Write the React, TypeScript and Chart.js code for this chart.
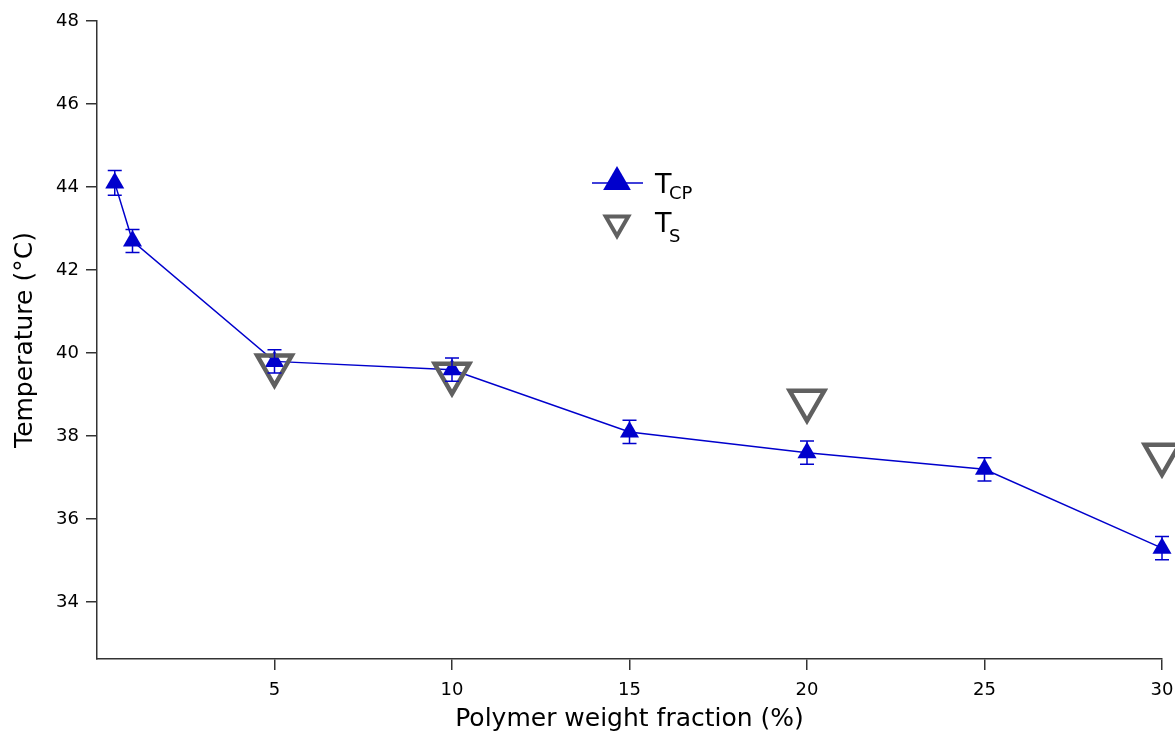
import React, { useEffect, useRef } from "react";
import { Chart, registerables } from "chart.js";

Chart.register(...registerables);

const fractions = [0.5, 1, 5, 10, 15, 20, 25, 30];
const tcpValues = [44.1, 42.7, 39.8, 39.6, 38.1, 37.6, 37.2, 35.3];
const tcpErrors = [0.3, 0.28, 0.28, 0.28, 0.28, 0.28, 0.28, 0.28];
const tsFractions = [5, 10, 20, 30];
const tsValues = [39.7, 39.5, 38.85, 37.55];
const xTicks = [5, 10, 15, 20, 25, 30];
const yTicks = [34, 36, 38, 40, 42, 44, 46, 48];

const BLUE = "#0000cc";
const GRAY = "#606060";
const AXIS = "#333333";
const FONT = "'DejaVu Sans', sans-serif";

const errorBarPlugin = {
  id: "errorBars",
  afterDatasetsDraw(chart: any) {
    const ctx = chart.ctx;
    const xs = chart.scales.x;
    const ys = chart.scales.y;
    ctx.save();
    ctx.strokeStyle = BLUE;
    ctx.lineWidth = 1.5;
    fractions.forEach((f, i) => {
      const px = xs.getPixelForValue(f);
      const top = ys.getPixelForValue(tcpValues[i] + tcpErrors[i]);
      const bot = ys.getPixelForValue(tcpValues[i] - tcpErrors[i]);
      ctx.beginPath();
      ctx.moveTo(px, top);
      ctx.lineTo(px, bot);
      ctx.moveTo(px - 7, top);
      ctx.lineTo(px + 7, top);
      ctx.moveTo(px - 7, bot);
      ctx.lineTo(px + 7, bot);
      ctx.stroke();
    });
    ctx.restore();
  },
};

const legendPlugin = {
  id: "customLegend",
  afterDraw(chart: any) {
    const ctx = chart.ctx;
    ctx.save();
    const cx = 617;
    const y1 = 182;
    ctx.strokeStyle = BLUE;
    ctx.lineWidth = 1.5;
    ctx.beginPath();
    ctx.moveTo(592, 183);
    ctx.lineTo(643, 183);
    ctx.stroke();
    ctx.fillStyle = BLUE;
    const r1 = 16;
    ctx.beginPath();
    ctx.moveTo(cx, y1 - r1);
    ctx.lineTo(cx + r1 * Math.sin(Math.PI / 3), y1 + r1 / 2);
    ctx.lineTo(cx - r1 * Math.sin(Math.PI / 3), y1 + r1 / 2);
    ctx.closePath();
    ctx.fill();
    ctx.fillStyle = "#000";
    ctx.textBaseline = "alphabetic";
    ctx.textAlign = "left";
    ctx.font = `27px ${FONT}`;
    ctx.fillText("T", 655, 193);
    ctx.font = `18px ${FONT}`;
    ctx.fillText("CP", 669, 199);
    const y2 = 223;
    const r2 = 13;
    ctx.strokeStyle = GRAY;
    ctx.lineWidth = 4;
    ctx.lineJoin = "miter";
    ctx.beginPath();
    ctx.moveTo(cx, y2 + r2);
    ctx.lineTo(cx + r2 * Math.sin(Math.PI / 3), y2 - r2 / 2);
    ctx.lineTo(cx - r2 * Math.sin(Math.PI / 3), y2 - r2 / 2);
    ctx.closePath();
    ctx.stroke();
    ctx.fillStyle = "#000";
    ctx.font = `27px ${FONT}`;
    ctx.fillText("T", 655, 232);
    ctx.font = `18px ${FONT}`;
    ctx.fillText("S", 669, 242);
    ctx.restore();
  },
};

export default function App() {
  const ref = useRef<HTMLCanvasElement | null>(null);
  useEffect(() => {
    if (!ref.current) return;
    const chart = new Chart(ref.current, {
      type: "scatter",
      data: {
        datasets: [
          {
            label: "TCP",
            data: fractions.map((f, i) => ({ x: f, y: tcpValues[i] })),
            showLine: true,
            borderColor: BLUE,
            backgroundColor: BLUE,
            borderWidth: 1.5,
            pointStyle: "triangle",
            pointRadius: 11,
            pointBorderWidth: 0,
            pointBackgroundColor: BLUE,
            order: 1,
          },
          {
            label: "TS",
            data: tsFractions.map((f, i) => ({ x: f, y: tsValues[i] })),
            showLine: false,
            pointStyle: "triangle",
            rotation: 180,
            pointRadius: 20,
            pointBorderWidth: 4.5,
            pointBorderColor: GRAY,
            pointBackgroundColor: "rgba(0,0,0,0)",
            borderColor: GRAY,
            order: 0,
          },
        ],
      },
      options: {
        animation: false,
        responsive: true,
        maintainAspectRatio: false,
        layout: { autoPadding: false, padding: { top: 21, right: 13, left: 0, bottom: 0 } },
        plugins: { legend: { display: false }, tooltip: { enabled: false } },
        elements: { line: { tension: 0 } },
        clip: false as any,
        scales: {
          x: {
            type: "linear",
            min: 0,
            max: 30,
            afterBuildTicks: (s: any) => {
              s.ticks = xTicks.map((v) => ({ value: v }));
            },
            afterFit: (s: any) => {
              s.height = 77;
              s.paddingLeft = 0;
              s.paddingRight = 0;
            },
            grid: {
              display: true,
              drawOnChartArea: false,
              drawTicks: true,
              tickLength: 11,
              color: AXIS,
              lineWidth: 1.5,
            },
            border: { display: true, color: AXIS, width: 1.5 },
            ticks: {
              color: "#000",
              font: { family: FONT, size: 18 },
              padding: 10,
              maxRotation: 0,
              autoSkip: false,
            },
            title: {
              display: true,
              text: "Polymer weight fraction (%)",
              color: "#000",
              font: { family: FONT, size: 25 },
              padding: { top: 0, bottom: 2 },
            },
          },
          y: {
            type: "linear",
            min: 32.63,
            max: 48,
            afterBuildTicks: (s: any) => {
              s.ticks = yTicks.map((v) => ({ value: v }));
            },
            afterFit: (s: any) => {
              s.width = 97;
              s.paddingTop = 0;
              s.paddingBottom = 0;
            },
            grid: {
              display: true,
              drawOnChartArea: false,
              drawTicks: true,
              tickLength: 11,
              color: AXIS,
              lineWidth: 1.5,
            },
            border: { display: true, color: AXIS, width: 1.5 },
            ticks: {
              color: "#000",
              font: { family: FONT, size: 18 },
              padding: 7,
              autoSkip: false,
            },
            title: {
              display: true,
              text: "Temperature (°C)",
              color: "#000",
              font: { family: FONT, size: 25 },
              padding: { top: 10, bottom: 4 },
            },
          },
        },
      },
      plugins: [errorBarPlugin, legendPlugin],
    });
    return () => chart.destroy();
  }, []);
  return (
    <div style={{ position: "absolute", left: 0, top: 0, width: 1175, height: 736, background: "#fff", overflow: "hidden" }}>
      <canvas ref={ref} />
    </div>
  );
}
